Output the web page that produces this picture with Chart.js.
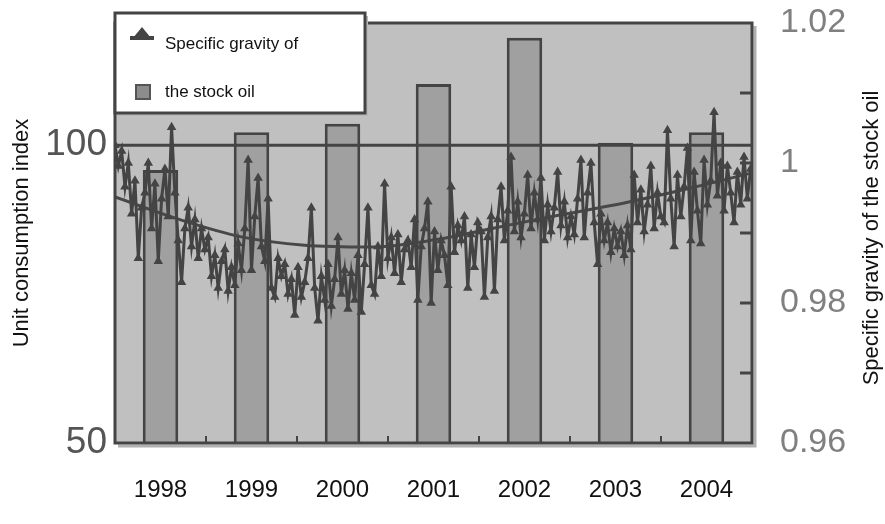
<!DOCTYPE html>
<html>
<head>
<meta charset="utf-8">
<script src="https://cdn.jsdelivr.net/npm/chart.js@4.4.1/dist/chart.umd.min.js"></script>
<style>
  html, body { margin: 0; padding: 0; background: #fff; }
</style>
</head>
<body>
<canvas id="chart" width="885" height="524"></canvas>
<script>
// Years along the bottom axis
const years = ['1998', '1999', '2000', '2001', '2002', '2003', '2004'];

// Specific gravity of the stock oil, one bar per year (right axis)
const gravity = [0.999, 1.0044, 1.0056, 1.0113, 1.0179, 1.0029, 1.0044];

// Unit consumption index (left axis), one row per year
const consumption = [
  100.0, 96.5, 99.0, 93.0, 97.0, 88.5, 94.0, 81.0, 89.5, 92.0, 97.0, 86.0, 93.5, 80.5, 91.0, 96.0, 88.0, 103.0, 92.0, 84.0, 77.0, 86.0, 89.5, 83.0, 87.5, 81.0, 86.0, 82.5,
  84.5, 78.0, 81.5, 76.0, 80.5, 82.5, 75.5, 79.5, 76.5, 83.5, 79.0, 86.0, 97.5, 79.0, 88.0, 94.5, 83.0, 80.5, 91.0, 76.0, 74.5, 81.0, 78.0, 80.0, 75.0, 77.5, 71.5,
  79.5, 74.5, 77.0, 81.0, 89.5, 76.0, 70.5, 78.0, 74.0, 80.0, 73.0, 77.5, 84.5, 75.0, 79.0, 72.5, 78.5, 74.0, 81.5, 72.0, 80.0, 89.5, 76.5, 75.0, 83.0, 78.0, 93.5, 81.0,
  84.5, 78.5, 85.0, 77.0, 82.5, 84.0, 79.5, 87.5, 74.0, 83.0, 86.0, 90.5, 73.5, 85.5, 79.0, 84.0, 81.5, 76.5, 93.0, 82.0, 86.5, 84.0, 88.0, 76.0, 85.0, 79.5, 87.0,
  85.5, 74.5, 84.5, 88.0, 75.5, 87.5, 93.0, 84.0, 89.0, 98.0, 85.5, 90.5, 84.5, 88.5, 95.0, 86.0, 92.0, 87.5, 94.5, 84.0, 90.0, 85.5, 89.5, 95.5, 86.5, 90.5, 84.5, 88.0,
  85.0, 91.0, 97.5, 84.5, 92.0, 97.0, 87.0, 80.0, 88.5, 84.0, 87.0, 82.0, 86.0, 83.0, 85.5, 81.5, 86.5, 82.5, 95.0, 87.0, 92.5, 85.5, 90.0, 96.5, 86.0, 92.0, 88.0,
  87.0, 102.5, 91.0, 83.0, 95.0, 88.0, 93.0, 99.5, 84.0, 95.5, 89.0, 83.5, 97.5, 90.0, 94.0, 105.5, 91.5, 97.0, 89.0, 96.5, 92.0, 87.0, 95.5, 90.0, 98.0, 91.0, 96.0
];

// Trend curve through the index: sample positions (point number) and values
const trendAt = [0, 20, 38, 57, 77, 96, 114, 134, 153, 173, 191];
const trendValues = [91.3, 87.4, 84.6, 83.2, 82.9, 84.1, 86.1, 88.3, 90.3, 92.8, 95.3];

// Labels shown on the two value axes
const leftTicks = [50, 100];
const rightTicks = [0.96, 0.98, 1, 1.02];

const FONT = "'Liberation Sans', Arial, sans-serif";
const DARK = '#444';

// Grey plot box, the 100 line, frame, small inner ticks, legend and right title
const plotFrame = {
  id: 'plotFrame',
  beforeDraw(chart) {
    const { ctx, chartArea: a } = chart;
    ctx.save();
    ctx.fillStyle = '#c0c0c0';
    ctx.fillRect(a.left, a.top, a.right - a.left, a.bottom - a.top);
    ctx.restore();
  },
  afterDatasetDraw(chart, args) {
    if (args.index !== 0) return;
    const { ctx, chartArea: a } = chart;
    const y = chart.scales.y.getPixelForValue(100);
    ctx.save();
    ctx.strokeStyle = DARK;
    ctx.lineWidth = 3;
    ctx.beginPath();
    ctx.moveTo(a.left, y);
    ctx.lineTo(a.right, y);
    ctx.stroke();
    ctx.restore();
  },
  afterDatasetsDraw(chart) {
    const { ctx, chartArea: a } = chart;
    ctx.save();
    // shadow
    ctx.strokeStyle = '#b0b0b0';
    ctx.lineWidth = 3;
    ctx.beginPath();
    ctx.moveTo(a.right + 3, a.top + 3);
    ctx.lineTo(a.right + 3, a.bottom + 3);
    ctx.lineTo(a.left + 3, a.bottom + 3);
    ctx.stroke();
    // frame
    ctx.strokeStyle = DARK;
    ctx.strokeRect(a.left, a.top, a.right - a.left, a.bottom - a.top);
    // small ticks on the right edge
    const y1 = chart.scales.y1;
    y1.ticks.forEach((t, i) => {
      if (i === 0 || i === y1.ticks.length - 1) return;
      const y = y1.getPixelForValue(t.value);
      ctx.beginPath();
      ctx.moveTo(a.right - 12, y);
      ctx.lineTo(a.right, y);
      ctx.stroke();
    });
    // small ticks between the years
    const x = chart.scales.x;
    ctx.lineWidth = 2;
    for (let i = 1; i < years.length; i++) {
      const px = (x.getPixelForTick(i - 1) + x.getPixelForTick(i)) / 2;
      ctx.beginPath();
      ctx.moveTo(px, a.bottom - 7);
      ctx.lineTo(px, a.bottom);
      ctx.stroke();
    }
    ctx.restore();
  },
  afterDraw(chart) {
    const { ctx } = chart;
    ctx.save();
    // legend box
    ctx.fillStyle = '#b8b8b8';
    ctx.fillRect(118, 16, 250, 100);
    ctx.fillStyle = '#fff';
    ctx.fillRect(115, 13, 250, 100);
    ctx.strokeStyle = DARK;
    ctx.lineWidth = 3;
    ctx.strokeRect(115, 13, 250, 100);
    // line marker
    ctx.fillStyle = DARK;
    ctx.beginPath();
    ctx.moveTo(133, 38);
    ctx.lineTo(151, 38);
    ctx.lineTo(142, 27);
    ctx.closePath();
    ctx.fill();
    ctx.fillRect(130, 36, 24, 4);
    // bar marker
    ctx.fillStyle = '#8c8c8c';
    ctx.fillRect(136, 85, 14, 14);
    ctx.strokeStyle = '#555';
    ctx.lineWidth = 2;
    ctx.strokeRect(136, 85, 14, 14);
    ctx.fillStyle = '#111';
    ctx.font = '17px ' + FONT;
    ctx.textAlign = 'left';
    ctx.textBaseline = 'middle';
    ctx.fillText('Specific gravity of', 165, 44);
    ctx.fillText('the stock oil', 165, 92);
    // right axis title, reading upwards
    ctx.translate(872, 238);
    ctx.rotate(-Math.PI / 2);
    ctx.textAlign = 'center';
    ctx.font = '22px ' + FONT;
    ctx.fillText('Specific gravity of the stock oil', 0, 0);
    ctx.restore();
  }
};

const ctx = document.getElementById('chart').getContext('2d');
const chart = new Chart(ctx, {
  data: {
    labels: years,
    datasets: [
      {
        type: 'bar',
        label: 'Specific gravity of the stock oil',
        data: gravity,
        xAxisID: 'x',
        yAxisID: 'y1',
        backgroundColor: '#a0a0a0',
        borderColor: DARK,
        borderWidth: 3,
        grouped: false,
        barPercentage: 0.39,
        categoryPercentage: 1,
        order: 3
      },
      {
        type: 'line',
        label: 'Trend',
        data: trendAt.map((p, i) => ({ x: p, y: trendValues[i] })),
        xAxisID: 'x2',
        yAxisID: 'y',
        borderColor: '#484848',
        borderWidth: 3,
        pointRadius: 0,
        cubicInterpolationMode: 'monotone',
        order: 2
      },
      {
        type: 'line',
        label: 'Unit consumption index',
        data: consumption.map((v, i) => ({ x: i, y: v })),
        xAxisID: 'x2',
        yAxisID: 'y',
        borderColor: DARK,
        borderWidth: 3,
        pointStyle: 'triangle',
        pointRadius: 2.5,
        pointBackgroundColor: DARK,
        pointBorderColor: DARK,
        tension: 0,
        order: 1
      }
    ]
  },
  options: {
    responsive: false,
    animation: false,
    devicePixelRatio: 1,
    layout: { padding: { top: 23, left: 0, right: 0, bottom: 0 } },
    plugins: { legend: { display: false }, tooltip: { enabled: false } },
    scales: {
      x: {
        type: 'category',
        position: 'bottom',
        offset: true,
        grid: { display: false, drawTicks: false },
        border: { display: false },
        ticks: { color: '#111', font: { family: FONT, size: 24 }, padding: 33, maxRotation: 0, autoSkip: false },
        afterFit(s) { s.height = 81; s.paddingLeft = 0; s.paddingRight = 0; }
      },
      x2: {
        type: 'linear',
        display: false,
        min: 0,
        max: consumption.length - 0.6
      },
      y: {
        position: 'left',
        min: 50,
        max: 120.5,
        grid: { display: false, drawTicks: false },
        border: { display: false },
        afterBuildTicks(s) { s.ticks = leftTicks.map(v => ({ value: v })); },
        ticks: { color: '#555', font: { family: FONT, size: 37 }, padding: 8 },
        title: {
          display: true,
          text: 'Unit consumption index',
          color: '#111',
          font: { family: FONT, size: 22 },
          padding: { top: 9, bottom: 0 }
        },
        afterFit(s) { s.width = 115; s.paddingTop = 0; s.paddingBottom = 0; }
      },
      y1: {
        position: 'right',
        min: 0.96,
        max: 1.02,
        grid: { display: false, drawTicks: false },
        border: { display: false },
        ticks: {
          stepSize: 0.01,
          color: '#808080',
          font: { family: FONT, size: 34 },
          padding: 28,
          callback: v => rightTicks.some(t => Math.abs(t - v) < 1e-6) ? String(+v.toFixed(2)) : ''
        },
        afterFit(s) { s.width = 133; s.paddingTop = 0; s.paddingBottom = 0; }
      }
    }
  },
  plugins: [plotFrame]
});
</script>
</body>
</html>
